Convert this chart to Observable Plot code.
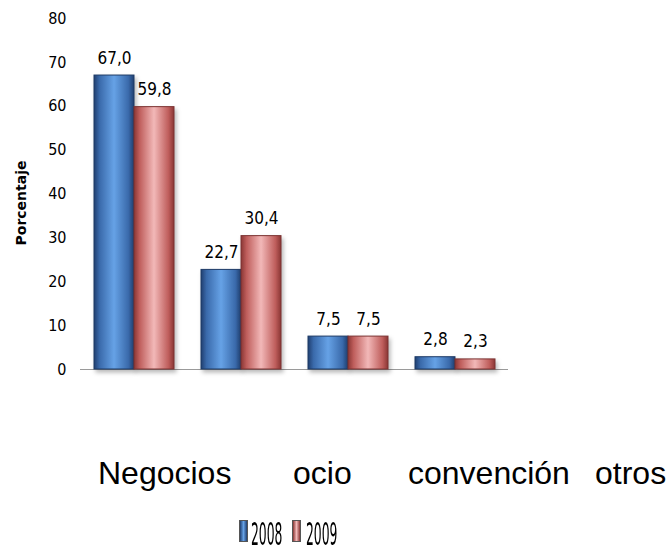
<!DOCTYPE html>
<html>
<head>
<meta charset="utf-8">
<script src="https://cdn.jsdelivr.net/npm/d3@7"></script>
<script src="https://cdn.jsdelivr.net/npm/@observablehq/plot@0.6"></script>
<style>
  body { margin: 0; background: #fff; }
  #wrap { position: relative; width: 671px; height: 554px; overflow: hidden; background: #fff; }
  #wrap svg { position: absolute; left: 0; top: 0; }
  .cat { position: absolute; top: 457px; font-family: "Liberation Sans", Arial, sans-serif; font-size: 32px; line-height: 1; color: #000; white-space: nowrap; }
  .leg-sw { position: absolute; top: 520px; width: 9px; height: 22px; box-sizing: border-box; border: 1px solid #555; }
  .leg-tx { position: absolute; top: 518px; font-family: "Liberation Sans Narrow", "DejaVu Sans Condensed", sans-serif; font-size: 32px; line-height: 1; color: #000; transform: scaleX(0.43); transform-origin: 0 0; white-space: nowrap; }
  .bar rect { filter: drop-shadow(2px 3px 2px rgba(0,0,0,0.28)); }
</style>
</head>
<body>
<div id="wrap"></div>
<script>
// Motivo de viaje, porcentaje por año
const categories = ["Negocios", "ocio", "convención", "otros"];
const years = ["2008", "2009"];
const values2008 = [67.0, 22.7, 7.5, 2.8];
const values2009 = [59.8, 30.4, 7.5, 2.3];
const yTicks = [0, 10, 20, 30, 40, 50, 60, 70, 80];
const yTitle = "Porcentaje";

const rows = [];
categories.forEach((c, i) => {
  rows.push({category: c, year: years[0], value: values2008[i]});
  rows.push({category: c, year: years[1], value: values2009[i]});
});

const fmt = v => v.toFixed(1).replace(".", ",");
const fills = {"2008": "url(#grad2008)", "2009": "url(#grad2009)"};
const strokes = {"2008": "#1d3a66", "2009": "#7c3332"};

const barsFor = yr => Plot.barY(rows.filter(d => d.year === yr), {
  fx: "category", x: "year", y: "value",
  fill: fills[yr], stroke: strokes[yr], strokeWidth: 1, className: "bar"
});

const chart = Plot.plot({
  width: 671,
  height: 390,
  marginLeft: 79,
  marginRight: 163,
  marginTop: 18,
  marginBottom: 21,
  style: {fontFamily: '"Liberation Sans Narrow", "DejaVu Sans Condensed", sans-serif', fontSize: "16px", color: "#000", background: "transparent", overflow: "visible"},
  fx: {domain: categories, padding: 0, axis: null},
  x: {domain: years, paddingInner: 0, paddingOuter: 0.334, axis: null},
  y: {domain: [0, 80]},
  marks: [
    Plot.axisY({ticks: yTicks, tickSize: 0, tickPadding: 14, line: true, stroke: "#8c8c8c", fill: "#000", label: null}),
    Plot.ruleY([0], {stroke: "#9a9a9a"}),
    barsFor("2008"),
    barsFor("2009"),
    Plot.text(rows, {
      fx: "category", x: "year", y: "value",
      text: d => fmt(d.value), dy: -12, lineAnchor: "bottom", fontSize: 17
    }),
    Plot.text([yTitle], {
      text: d => d, frameAnchor: "left", textAnchor: "middle", rotate: -90, dx: -59, dy: 9,
      facetAnchor: "left", fontWeight: "bold", fontSize: 14,
      fontFamily: '"DejaVu Sans", sans-serif', letterSpacing: "1.2px"
    })
  ]
});

// Bevelled gradient fills for the two series
const svg = d3.select(chart);
const defs = svg.insert("defs", ":first-child");
const gradients = {
  grad2008: ["#203f70", "#3a6aab", "#66a2e6", "#3a6aab", "#203f70"],
  grad2009: ["#8a3634", "#bf5e5c", "#f2b8b8", "#bf5e5c", "#8a3634"]
};
Object.entries(gradients).forEach(([id, cols]) => {
  const g = defs.append("linearGradient").attr("id", id).attr("x1", 0).attr("x2", 1).attr("y1", 0).attr("y2", 0);
  [0, 0.14, 0.5, 0.86, 1].forEach((o, i) => g.append("stop").attr("offset", o).attr("stop-color", cols[i]));
});

const wrap = document.getElementById("wrap");
wrap.appendChild(chart);

// Category names beneath the chart
const catLeft = [98, 293, 408, 595];
categories.forEach((c, i) => {
  const s = document.createElement("div");
  s.className = "cat";
  s.style.left = catLeft[i] + "px";
  s.textContent = c;
  wrap.appendChild(s);
});

// Legend
const legSwLeft = [239, 292];
const legTxLeft = [251, 306];
const legBg = {
  "2008": "linear-gradient(to right, #203f70, #66a2e6, #203f70)",
  "2009": "linear-gradient(to right, #8a3634, #f2b8b8, #8a3634)"
};
years.forEach((y, i) => {
  const sw = document.createElement("div");
  sw.className = "leg-sw";
  sw.style.left = legSwLeft[i] + "px";
  sw.style.background = legBg[y];
  wrap.appendChild(sw);
  const t = document.createElement("div");
  t.className = "leg-tx";
  t.style.left = legTxLeft[i] + "px";
  t.textContent = y;
  wrap.appendChild(t);
});
</script>
</body>
</html>
